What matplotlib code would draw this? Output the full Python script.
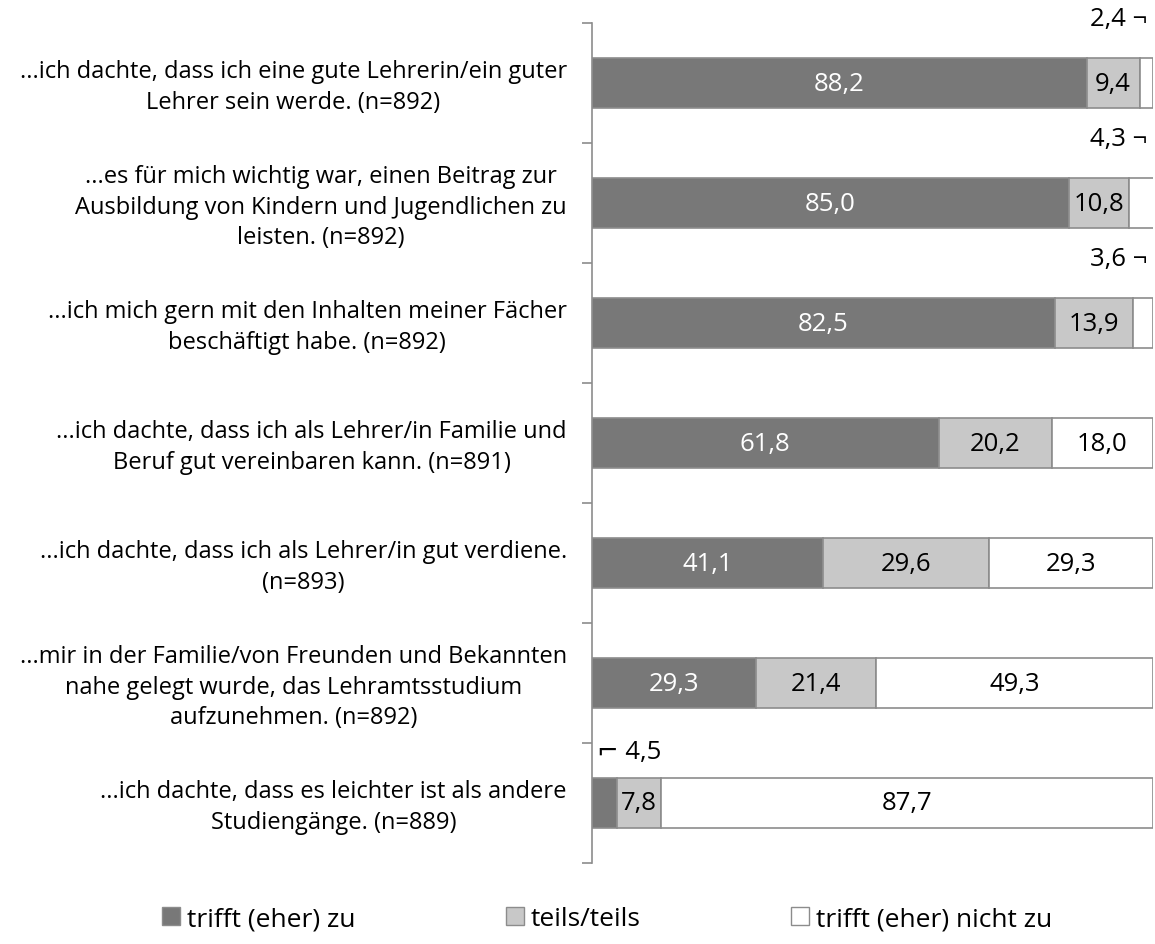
import matplotlib
matplotlib.use("Agg")
import matplotlib.pyplot as plt
from matplotlib.patches import Patch

plt.rcParams['font.family'] = ['Open Sans', 'DejaVu Sans']

categories = [
    "...ich dachte, dass ich eine gute Lehrerin/ein guter\nLehrer sein werde. (n=892)",
    "...es für mich wichtig war, einen Beitrag zur\nAusbildung von Kindern und Jugendlichen zu\nleisten. (n=892)",
    "...ich mich gern mit den Inhalten meiner Fächer\nbeschäftigt habe. (n=892)",
    "...ich dachte, dass ich als Lehrer/in Familie und\nBeruf gut vereinbaren kann. (n=891)",
    "...ich dachte, dass ich als Lehrer/in gut verdiene.\n(n=893)",
    "...mir in der Familie/von Freunden und Bekannten\nnahe gelegt wurde, das Lehramtsstudium\naufzunehmen. (n=892)",
    "...ich dachte, dass es leichter ist als andere\nStudiengänge. (n=889)",
]
trifft_zu = [88.2, 85.0, 82.5, 61.8, 41.1, 29.3, 4.5]
teils = [9.4, 10.8, 13.9, 20.2, 29.6, 21.4, 7.8]
nicht_zu = [2.4, 4.3, 3.6, 18.0, 29.3, 49.3, 87.7]
series_names = ["trifft (eher) zu", "teils/teils", "trifft (eher) nicht zu"]

colors = ["#787878", "#c8c8c8", "#ffffff"]
text_colors = ["white", "black", "black"]
edge = "#8c8c8c"

fig = plt.figure(figsize=(11.55, 9.45), dpi=100)
ax = fig.add_axes([592/1155, 1-864/945, (1153-592)/1155, 840/945])

fs = 17
fs_val = 18.5
ys = list(range(len(categories)))
series = [trifft_zu, teils, nicht_zu]
lefts = [0.0]*len(categories)
for si, vals in enumerate(series):
    ax.barh(ys, vals, left=lefts, height=0.41, color=colors[si],
            edgecolor=edge, linewidth=1.2, zorder=2)
    for i, v in enumerate(vals):
        if v >= 5:
            ax.text(lefts[i] + v/2, i, f"{v:.1f}".replace('.', ','),
                    ha='center', va='center', fontsize=fs_val,
                    color=text_colors[si], zorder=3)
    lefts = [l + v for l, v in zip(lefts, vals)]

# small value callouts
for i, v in enumerate(nicht_zu):
    if v < 5:
        ax.text(99.0, i - 0.54, f"{v:.1f}".replace('.', ',') + " ¬",
                ha='right', va='center', fontsize=fs_val, color='black')
for i, v in enumerate(trifft_zu):
    if v < 5:
        ax.text(0.9, i - 0.43, "⌐ " + f"{v:.1f}".replace('.', ','),
                ha='left', va='center', fontsize=fs_val, color='black')

ax.set_xlim(0, 100)
ax.set_ylim(len(categories) - 0.5, -0.5)
ax.set_xticks([])
ax.set_yticks([i - 0.5 for i in range(len(categories) + 1)])
ax.set_yticklabels([])
ax.tick_params(axis='y', length=7, width=1.2, color='#8c8c8c', direction='out')
for s in ['top', 'right', 'bottom']:
    ax.spines[s].set_visible(False)
ax.spines['left'].set_color('#8c8c8c')
ax.spines['left'].set_linewidth(1.2)

for i, c in enumerate(categories):
    ax.text(-0.045, i + 0.03, c, transform=ax.get_yaxis_transform(),
            ha='right', va='center', multialignment='center', fontsize=fs,
            color='black', linespacing=1.36)

handles = [Patch(facecolor=colors[k], edgecolor=edge, linewidth=1.0) for k in range(3)]
fig.legend(handles, series_names, loc='center', bbox_to_anchor=(607/1155, 1-920/945),
           ncol=3, frameon=False, fontsize=19, handlelength=0.68, handleheight=0.68,
           handletextpad=0.27, columnspacing=5.7)

fig.savefig("out.png", dpi=100)
